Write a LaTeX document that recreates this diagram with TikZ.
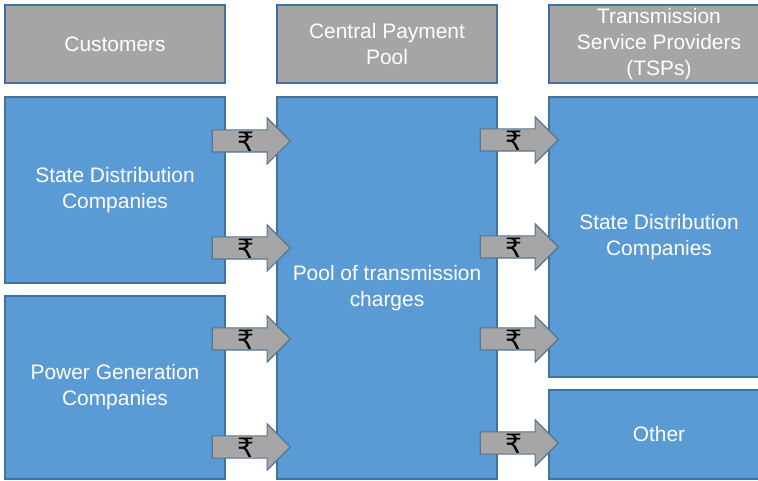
\documentclass[tikz,border=0pt]{standalone}
\usepackage{fontspec}
\setmainfont{Liberation Sans}
\newfontfamily\rupeefont{DejaVu Sans}
\usepackage{tikz}
\usetikzlibrary{positioning,shapes.arrows}
\usepackage{xcolor}
\definecolor{poolblue}{RGB}{91,155,213}
\definecolor{edgeblue}{RGB}{65,113,156}
\definecolor{headgray}{RGB}{165,165,165}
\definecolor{arrowgray}{RGB}{166,166,166}

\begin{document}
\begin{tikzpicture}[
  x=0.75pt, y=0.75pt,
  font=\fontsize{15.7}{19.5}\selectfont,
  head/.style={draw=edgeblue, line width=1pt, fill=headgray, text=white, outer sep=0pt, inner sep=0pt, minimum width=165pt, minimum height=58.5pt, align=center},
  card/.style={draw=edgeblue, line width=1pt, fill=poolblue, text=white, outer sep=0pt, minimum width=165pt, align=center},
  money/.style={single arrow, draw=edgeblue!70!gray, line width=0.8pt, fill=arrowgray, inner sep=0pt, text height=15.5pt, text depth=0.25pt, minimum height=58.5pt, minimum width=33.75pt, single arrow head extend=9pt, font=\rupeefont\fontsize{20}{20}\selectfont},
]
\useasboundingbox (0,0) rectangle (758,-481);

% Column headers
\node[head] (cust) at (115,-44) {Customers};
\node[head, right=39pt of cust] (central) {Central Payment\\Pool};
\node[head, right=39pt of central] (tsp) {Transmission\\Service Providers\\(TSPs)};

% Boxes below the headers
\node[card, minimum height=139.5pt, below=10.5pt of cust] (sdc) {State Distribution\\Companies};
\node[card, minimum height=137.25pt, below=9.75pt of sdc] (gen) {Power Generation\\Companies};
\node[card, minimum height=286.5pt, below=10.5pt of central] (pool) {Pool of transmission\\charges};
\node[card, minimum height=210pt, below=10.5pt of tsp] (tspsdc) {State Distribution\\Companies};
\node[card, minimum height=66.75pt, below=9.75pt of tspsdc] (other) {Other};

% Payment arrows
\foreach \y [count=\i] in {141,248,339,447}
  \node[money, anchor=tip] (pay\i) at (291,-\y) {₹};
\foreach \y [count=\i] in {140,247,339,443}
  \node[money, anchor=tip] (out\i) at (559,-\y) {₹};

\end{tikzpicture}
\end{document}
